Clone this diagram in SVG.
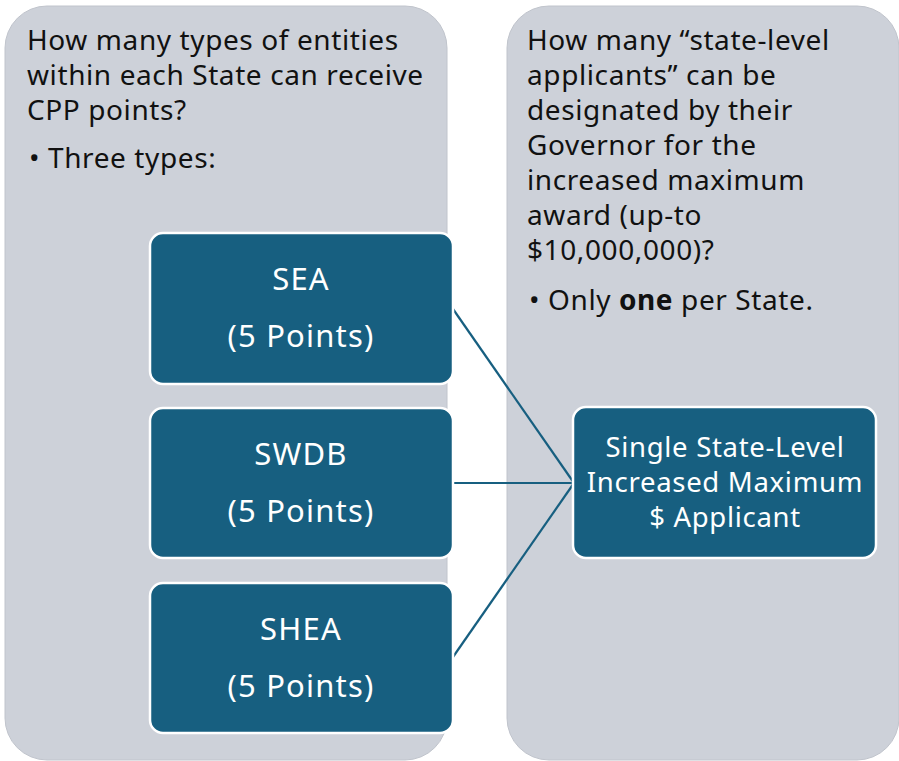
<svg xmlns="http://www.w3.org/2000/svg" width="899" height="761" viewBox="0 0 899 761">
<style>
.panel{fill:#CDD1D9;stroke:#C0C4CC;stroke-width:1}
.box{fill:#175F80;stroke:#FFFFFF;stroke-width:2.5}
.q{font-family:"Noto Sans","Liberation Sans",Arial,sans-serif;font-size:28px;letter-spacing:0.6px;fill:#111111}
.bt{font-family:"Noto Sans","Liberation Sans",Arial,sans-serif;font-size:31px;letter-spacing:1.2px;fill:#FFFFFF;text-anchor:middle}
.tt{font-family:"Noto Sans","Liberation Sans",Arial,sans-serif;font-size:27.5px;letter-spacing:0.7px;fill:#FFFFFF;text-anchor:middle}
.conn{stroke:#175F80;stroke-width:2.2;fill:none}
</style>
<rect width="899" height="761" fill="#FFFFFF"/>
<g id="panel-left">
<rect class="panel" x="5" y="6" width="442" height="754" rx="42"/>
<text class="q" x="27" y="50">How many types of entities</text>
<text class="q" x="27" y="85">within each State can receive</text>
<text class="q" x="27" y="120">CPP points?</text>
<text class="q" x="29" y="168">• Three types:</text>
</g>
<g id="panel-right">
<rect class="panel" x="507" y="6" width="392" height="754" rx="42"/>
<text class="q" x="527" y="50">How many  “state-level</text>
<text class="q" x="527" y="85">applicants” can be</text>
<text class="q" x="527" y="120">designated by their</text>
<text class="q" x="527" y="155">Governor for the</text>
<text class="q" x="527" y="190">increased maximum</text>
<text class="q" x="527" y="225">award (up-to</text>
<text class="q" x="527" y="260">$10,000,000)?</text>
<text class="q" x="529" y="310">• Only <tspan font-weight="bold">one</tspan> per State.</text>
</g>
<g id="connectors">
<line class="conn" x1="453" y1="309" x2="574" y2="483"/>
<line class="conn" x1="453" y1="483" x2="574" y2="483"/>
<line class="conn" x1="453" y1="657" x2="574" y2="483"/>
</g>
<g id="node-sea">
<rect class="box" x="150" y="233" width="303" height="151" rx="13"/>
<text class="bt" x="301" y="290">SEA</text>
<text class="bt" x="301" y="347">(5 Points)</text>
</g>
<g id="node-swdb">
<rect class="box" x="150" y="408" width="303" height="150" rx="13"/>
<text class="bt" x="301" y="465">SWDB</text>
<text class="bt" x="301" y="522">(5 Points)</text>
</g>
<g id="node-shea">
<rect class="box" x="150" y="583" width="303" height="150" rx="13"/>
<text class="bt" x="301" y="640">SHEA</text>
<text class="bt" x="301" y="697">(5 Points)</text>
</g>
<g id="node-applicant">
<rect class="box" x="573" y="407" width="303" height="151" rx="13"/>
<text class="tt" x="725" y="457">Single State-Level</text>
<text class="tt" x="725" y="492">Increased Maximum</text>
<text class="tt" x="725" y="527">$ Applicant</text>
</g>
</svg>
